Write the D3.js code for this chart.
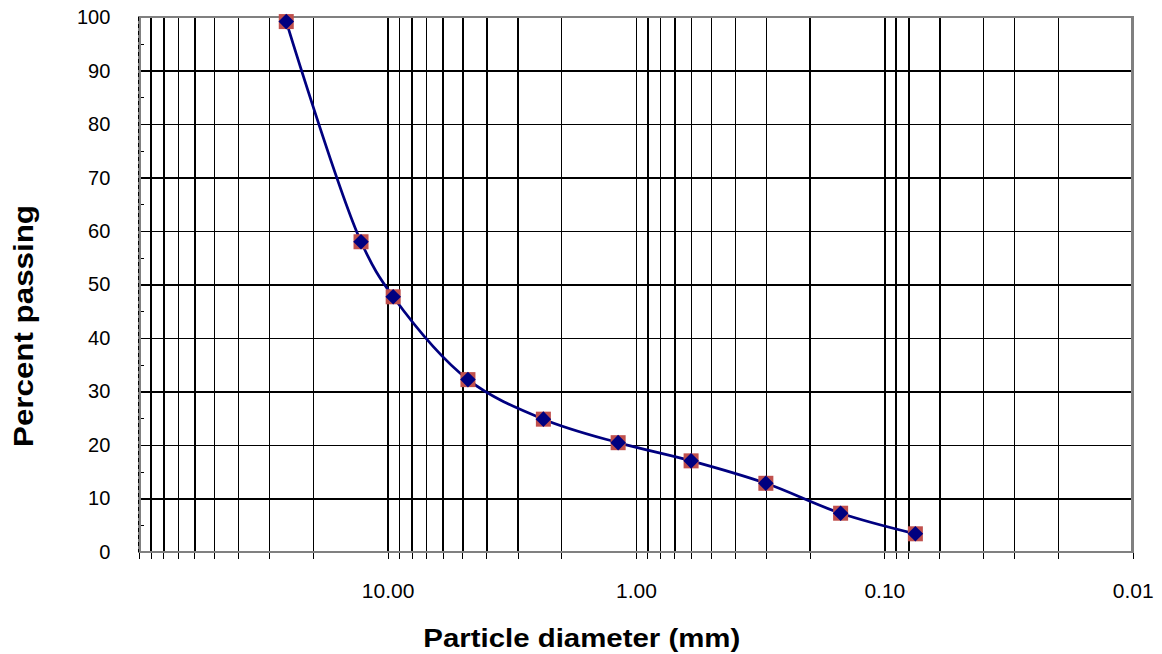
<!DOCTYPE html>
<html>
	<head>
		<script type="text/javascript" src="https://cdn.jsdelivr.net/npm/d3@7"></script>
		<style type="text/css">
			body { margin: 0; background: #fff; }
			svg text { font-family: "Liberation Sans", Arial, sans-serif; fill: #000; }
			.grid line { stroke: #000; stroke-width: 1.5px; shape-rendering: crispEdges; }
			.grid path, .lab path, .lab line, .tk path { display: none; }
			.tk line { stroke: #000; stroke-width: 1px; shape-rendering: crispEdges; }
			.frame { stroke: #808080; fill: none; shape-rendering: crispEdges; }
		</style>
	</head>
	<body>
		<script type="text/javascript">
			// sieve sizes (mm) and % passing
			var diameters = [25.6, 12.8, 9.5, 4.75, 2.36, 1.18, 0.6, 0.3, 0.15, 0.075];
			var passing   = [99.2, 58.0, 47.7, 32.2, 24.8, 20.4, 17.0, 12.8, 7.2, 3.35];

			// vertical grid lines (0.07 and 0.05 are not drawn in the original)
			var xGrid = [90, 80, 70, 60, 50, 40, 30, 20, 10,
						 9, 8, 7, 6, 5, 4, 3, 2, 1,
						 0.9, 0.8, 0.7, 0.6, 0.5, 0.4, 0.3, 0.2, 0.1,
						 0.09, 0.08, 0.06, 0.04, 0.03, 0.02];
			var xTickValues = [100].concat(xGrid).concat([0.01]);
			var xLabels = [10, 1, 0.1, 0.01];
			var xLabelText = ["10.00", "1.00", "0.10", "0.01"];

			var yGrid = [10, 20, 30, 40, 50, 60, 70, 80, 90];
			var yLabels = [0, 10, 20, 30, 40, 50, 60, 70, 80, 90, 100];
			var yMinor = [5, 15, 25, 35, 45, 55, 65, 75, 85, 95, 100];

			// plot area (note: "top" is taken by window.top)
			var pLeft = 139.3, pRight = 1132.7, pTop = 17.3, pBottom = 551.7;

			var svg = d3.select("body")
				.append("svg")
				.attr("width", 1162)
				.attr("height", 654);

			svg.append("rect").attr("width", 1162).attr("height", 654).attr("fill", "#fff");

			var x = d3.scaleLog().domain([100, 0.01]).range([pLeft, pRight]);
			var y = d3.scaleLinear().domain([0, 100]).range([pBottom, pTop]);

			/*
			* grid lines
			*/
			svg.append("g")
				.attr("class", "grid")
				.attr("transform", "translate(" + pLeft + ",0)")
				.call(d3.axisLeft(y).tickValues(yGrid).tickSize(-(pRight - pLeft)).tickFormat(""));

			svg.append("g")
				.attr("class", "grid")
				.attr("transform", "translate(0," + pBottom + ")")
				.call(d3.axisBottom(x).tickValues(xGrid).tickSize(-(pBottom - pTop)).tickFormat(""));

			// ticks below the x axis
			svg.append("g")
				.attr("class", "tk")
				.attr("transform", "translate(0," + (pBottom + 1) + ")")
				.call(d3.axisBottom(x).tickValues(xTickValues).tickSize(6).tickFormat(""));

			// minor ticks on the y axis
			svg.append("g")
				.attr("class", "tk")
				.attr("transform", "translate(" + (pLeft - 1.5) + ",0)")
				.call(d3.axisRight(y).tickValues(yMinor).tickSize(6).tickFormat(""));

			/*
			* frame
			*/
			svg.append("line").attr("class", "frame").attr("stroke-width", 2)
				.attr("x1", pLeft).attr("x2", pRight).attr("y1", pTop).attr("y2", pTop);
			svg.append("line").attr("class", "frame").attr("stroke-width", 3)
				.attr("x1", pRight).attr("x2", pRight).attr("y1", pTop - 1).attr("y2", pBottom + 1);
			svg.append("line").attr("class", "frame").attr("stroke-width", 2)
				.attr("x1", pLeft).attr("x2", pRight + 1).attr("y1", pBottom).attr("y2", pBottom);
			svg.append("line").attr("class", "frame").attr("stroke-width", 3)
				.attr("x1", pLeft).attr("x2", pLeft).attr("y1", pTop - 1).attr("y2", pBottom + 1);
			svg.append("line")
				.attr("x1", pLeft - 0.5).attr("x2", pLeft - 0.5).attr("y1", pTop).attr("y2", pBottom)
				.attr("stroke", "#000").attr("stroke-width", 1).attr("stroke-dasharray", "4,3")
				.attr("shape-rendering", "crispEdges");

			/*
			* tick labels
			*/
			var yAxis = svg.append("g")
				.attr("class", "lab")
				.attr("transform", "translate(" + pLeft + ",0)")
				.call(d3.axisLeft(y).tickValues(yLabels).tickSize(0).tickPadding(29).tickFormat(d3.format("d")));
			yAxis.attr("font-size", null).attr("font-family", null);
			yAxis.selectAll("text").attr("font-size", 20).attr("fill", "#111");

			var xAxis = svg.append("g")
				.attr("class", "lab")
				.attr("transform", "translate(0," + pBottom + ")")
				.call(d3.axisBottom(x).tickValues(xLabels).tickSize(0).tickPadding(31)
					.tickFormat(function(d, i) { return xLabelText[i]; }));
			xAxis.attr("font-size", null).attr("font-family", null);
			xAxis.selectAll("text").attr("font-size", 21).attr("fill", "#111");

			/*
			* data line + markers
			*/
			var line = d3.line()
				.x(function(d, i) { return x(diameters[i]); })
				.y(function(d, i) { return y(passing[i]); })
				.curve(d3.curveCatmullRom.alpha(0.5));

			svg.append("path")
				.attr("d", line(passing))
				.attr("fill", "none")
				.attr("stroke", "#000080")
				.attr("stroke-width", 2.75);

			var pts = svg.selectAll("g.pt")
				.data(passing)
				.enter()
				.append("g")
				.attr("class", "pt")
				.attr("transform", function(d, i) {
					return "translate(" + x(diameters[i]) + "," + y(d) + ")";
				});

			pts.append("rect")
				.attr("x", -7.5).attr("y", -7.5)
				.attr("width", 15).attr("height", 15)
				.attr("fill", "#c0504d");

			pts.append("path")
				.attr("d", d3.symbol().type(d3.symbolSquare).size(122))
				.attr("transform", "rotate(45)")
				.attr("fill", "#000080");

			/*
			* axis titles
			*/
			svg.append("text")
				.text("Particle diameter (mm)")
				.attr("x", 423.3)
				.attr("y", 647)
				.attr("font-size", 26)
				.attr("font-weight", "bold")
				.attr("textLength", 317)
				.attr("lengthAdjust", "spacingAndGlyphs");

			svg.append("text")
				.text("Percent passing")
				.attr("transform", "translate(33,447) rotate(-90)")
				.attr("font-size", 28)
				.attr("font-weight", "bold")
				.attr("textLength", 242)
				.attr("lengthAdjust", "spacingAndGlyphs");
		</script>
	</body>
</html>
